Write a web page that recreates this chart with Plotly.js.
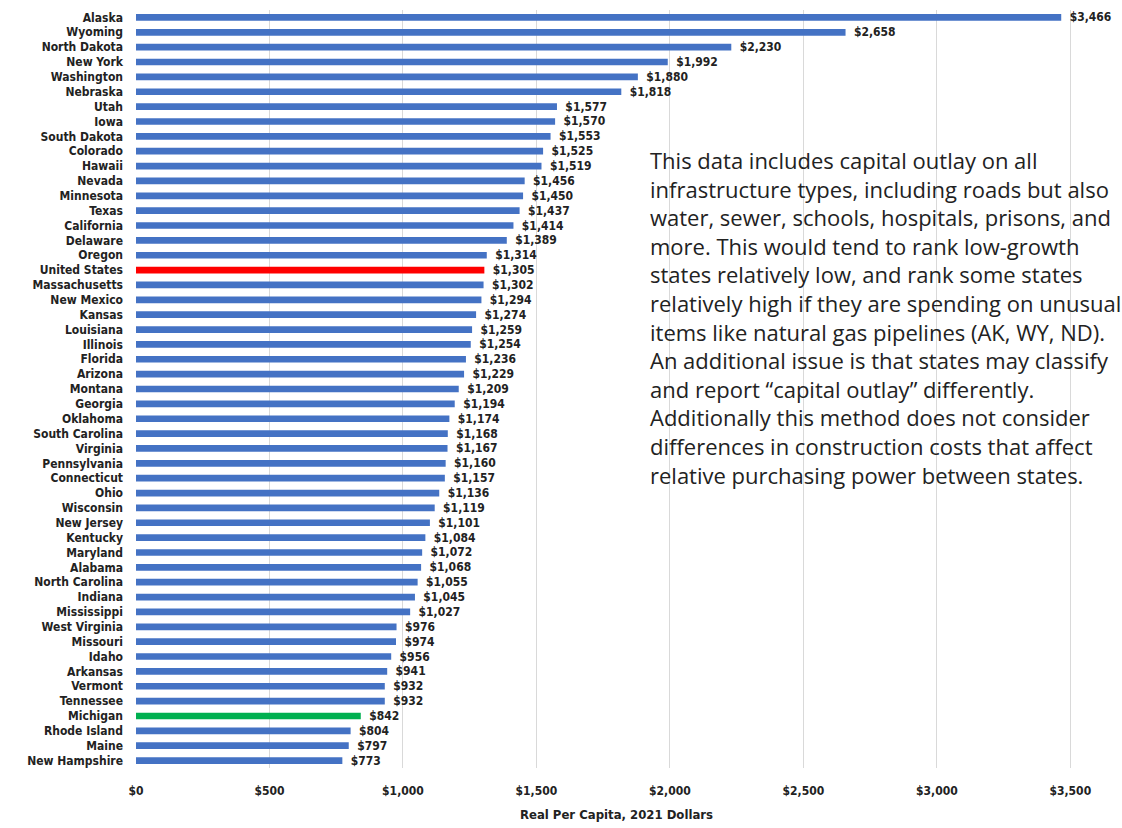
<!DOCTYPE html>
<html>
<head>
<meta charset="utf-8">
<script src="https://cdn.plot.ly/plotly-3.0.1.min.js"></script>
<style>html,body{margin:0;padding:0;background:#fff;}#chart{width:1122px;height:828px;}</style>
</head>
<body>
<div id="chart"></div>
<script>
const states = ["Alaska","Wyoming","North Dakota","New York","Washington","Nebraska","Utah","Iowa","South Dakota","Colorado","Hawaii","Nevada","Minnesota","Texas","California","Delaware","Oregon","United States","Massachusetts","New Mexico","Kansas","Louisiana","Illinois","Florida","Arizona","Montana","Georgia","Oklahoma","South Carolina","Virginia","Pennsylvania","Connecticut","Ohio","Wisconsin","New Jersey","Kentucky","Maryland","Alabama","North Carolina","Indiana","Mississippi","West Virginia","Missouri","Idaho","Arkansas","Vermont","Tennessee","Michigan","Rhode Island","Maine","New Hampshire"];
const values = [3466,2658,2230,1992,1880,1818,1577,1570,1553,1525,1519,1456,1450,1437,1414,1389,1314,1305,1302,1294,1274,1259,1254,1236,1229,1209,1194,1174,1168,1167,1160,1157,1136,1119,1101,1084,1072,1068,1055,1045,1027,976,974,956,941,932,932,842,804,797,773];
const xTicks = [0,500,1000,1500,2000,2500,3000,3500];
const xTitle = "Real Per Capita, 2021 Dollars";
const note = "This data includes capital outlay on all<br>infrastructure types, including roads but also<br>water, sewer, schools, hospitals, prisons, and<br>more. This would tend to rank low-growth<br>states relatively low, and rank some states<br>relatively high if they are spending on unusual<br>items like natural gas pipelines (AK, WY, ND).<br>An additional issue is that states may classify<br>and report \u201ccapital outlay\u201d differently.<br>Additionally this method does not consider<br>differences in construction costs that affect<br>relative purchasing power between states.";

const colors = states.map(s => s === "United States" ? "#FF0000" : (s === "Michigan" ? "#00B050" : "#4472C4"));
const labels = values.map(v => "\u2002$" + v.toLocaleString("en-US"));

const FONT = "DejaVu Sans Condensed, Liberation Sans Narrow, sans-serif";

const trace = {
  type: "bar",
  orientation: "h",
  y: states,
  x: values,
  marker: {color: colors},
  text: labels,
  textposition: "outside",
  constraintext: "none",
  cliponaxis: false,
  textfont: {family: FONT, size: 12, color: "#222", weight: "bold"},
  hoverinfo: "none"
};

const layout = {
  width: 1122, height: 828,
  margin: {l: 136, r: 25, t: 10, b: 60},
  paper_bgcolor: "#fff", plot_bgcolor: "#fff",
  bargap: 0.55,
  showlegend: false,
  xaxis: {
    range: [0, 3600],
    tickvals: xTicks,
    ticktext: xTicks.map(v => "$" + v.toLocaleString("en-US")),
    showgrid: true, gridcolor: "#d9d9d9", gridwidth: 1,
    zeroline: false, showline: false, ticks: "",
    ticklabelstandoff: 14,
    tickfont: {family: FONT, size: 12, color: "#222", weight: "bold"},
    title: {text: xTitle, standoff: 12, font: {family: FONT, size: 13, color: "#222", weight: "bold"}}
  },
  yaxis: {
    autorange: "reversed",
    type: "category",
    showgrid: false, zeroline: false, showline: false, ticks: "",
    ticklabelstandoff: 12,
    tickfont: {family: FONT, size: 12, color: "#222", weight: "bold"}
  },
  annotations: [{
    xref: "paper", yref: "paper",
    x: 0.533, y: 0.825, xanchor: "left", yanchor: "top",
    align: "left", showarrow: false,
    text: note,
    font: {family: "Open Sans, sans-serif", size: 22, color: "#222"}
  }]
};

Plotly.newPlot("chart", [trace], layout, {displayModeBar: false, staticPlot: true});
</script>
</body>
</html>
